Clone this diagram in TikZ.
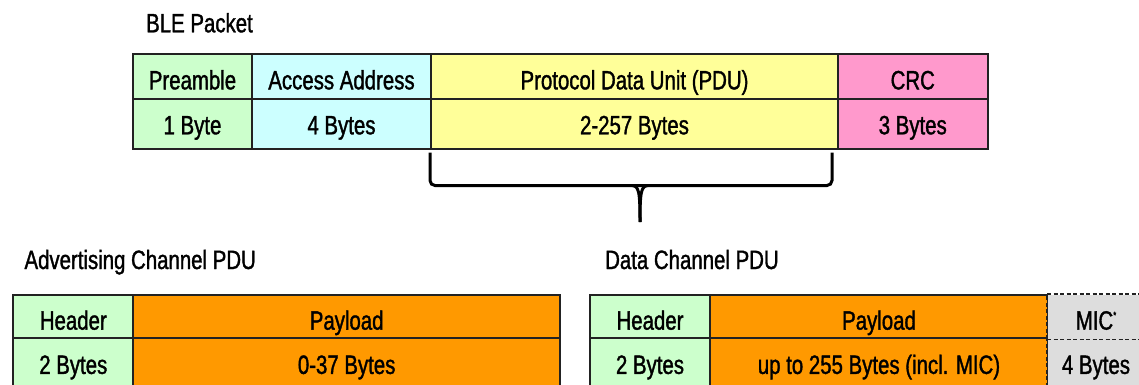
\documentclass[tikz,border=0pt]{standalone}
\usepackage{fontspec}
\setmainfont{Liberation Sans}[FakeStretch=0.77, FakeBold=1.3]
\definecolor{cgreen}{HTML}{CCFFCC}
\definecolor{ccyan}{HTML}{CCFFFF}
\definecolor{cyellow}{HTML}{FFFF99}
\definecolor{cpink}{HTML}{FF99CC}
\definecolor{corange}{HTML}{FF9900}
\definecolor{cgray}{HTML}{DDDDDD}
\definecolor{cborder}{HTML}{222222}
\begin{document}
\begin{tikzpicture}[x=1pt,y=-1pt,
  cell/.style={draw=cborder, line width=2pt, inner sep=0pt, anchor=north west,
    text depth=0pt, font=\fontsize{26.5}{30}\selectfont},
  rowA/.style={cell, text height=26pt},
  rowB/.style={cell, text height=21.2pt},
  title/.style={anchor=base west, inner sep=0pt, font=\fontsize{26.5}{30}\selectfont},
  brace line/.style={draw=black, line width=3pt},
  micdash/.style={draw=cborder, line width=1.6pt, dash pattern=on 4pt off 2.5pt}]
\useasboundingbox (0,0) rectangle (1139,385);
\clip (0,0) rectangle (1139,385);

% ---------- BLE packet ----------
\node[title] (ble) at (146,32.3) {BLE Packet};
\node[rowA, fill=cgreen,  minimum width=119pt,   minimum height=44.7pt] (pre)  at (132,53) {Preamble};
\node[rowA, fill=ccyan,   minimum width=179pt,   minimum height=44.7pt] (acc)  at (251,53) {Access Address};
\node[rowA, fill=cyellow, minimum width=407pt,   minimum height=44.7pt] (pdu)  at (430,53) {Protocol Data Unit (PDU)};
\node[rowA, fill=cpink,   minimum width=149.5pt, minimum height=44.7pt] (crc)  at (837,53) {CRC};
\node[rowB, fill=cgreen,  minimum width=119pt,   minimum height=50pt] (preB) at (132,97.7) {1 Byte};
\node[rowB, fill=ccyan,   minimum width=179pt,   minimum height=50pt] (accB) at (251,97.7) {4 Bytes};
\node[rowB, fill=cyellow, minimum width=407pt,   minimum height=50pt] (pduB) at (430,97.7) {2-257 Bytes};
\node[rowB, fill=cpink,   minimum width=149.5pt, minimum height=50pt] (crcB) at (837,97.7) {3 Bytes};

% ---------- brace ----------
\coordinate (bl) at (430,152.5);
\coordinate (br) at (832,152.5);
\coordinate (tip) at (640,222);
\draw[brace line, rounded corners=5pt] (bl) -- (430,185.5) -- (832,185.5) -- (br);
\draw[brace line] (632,185.5) .. controls (639,186) and (640,192) .. (tip);
\draw[brace line] (648,185.5) .. controls (641,186) and (640,192) .. (tip);

% ---------- Advertising channel PDU ----------
\node[title] (adv) at (24.3,269) {Advertising Channel PDU};
\node[rowA, fill=cgreen,  minimum width=120pt,   minimum height=43.3pt] (ahd)  at (12.3,294) {Header};
\node[rowA, fill=corange, minimum width=426.7pt, minimum height=43.3pt] (apl)  at (132.3,294) {Payload};
\node[rowB, fill=cgreen,  minimum width=120pt,   minimum height=50pt] (ahdB) at (12.3,337.3) {2 Bytes};
\node[rowB, fill=corange, minimum width=426.7pt, minimum height=50pt] (aplB) at (132.3,337.3) {0-37 Bytes};

% ---------- Data channel PDU ----------
\node[title] (dat) at (605,269) {Data Channel PDU};
\node[rowA, fill=cgreen,  minimum width=120pt, minimum height=43.3pt] (dhd)  at (589,294) {Header};
\node[rowA, fill=corange, minimum width=338pt, minimum height=43.3pt] (dpl)  at (709,294) {Payload};
\node[rowB, fill=cgreen,  minimum width=120pt, minimum height=50pt] (dhdB) at (589,337.3) {2 Bytes};
\node[rowB, fill=corange, minimum width=338pt, minimum height=50pt] (dplB) at (709,337.3) {up to 255 Bytes (incl. MIC)};
\node[rowA, draw=none, fill=cgray, minimum width=96pt, minimum height=43.3pt] (mic)  at (1047,294) {MIC\raisebox{11pt}{\fontsize{10}{10}\selectfont *}};
\node[rowB, draw=none, fill=cgray, minimum width=96pt, minimum height=50pt] (micB) at (1047,337.3) {4 Bytes};
\draw[micdash] (mic.south west) -- (mic.north west) -- (mic.north east);
\draw[micdash] (mic.south west) -- (mic.south east);
\draw[micdash] (micB.north west) -- (micB.south west);
\end{tikzpicture}
\end{document}
